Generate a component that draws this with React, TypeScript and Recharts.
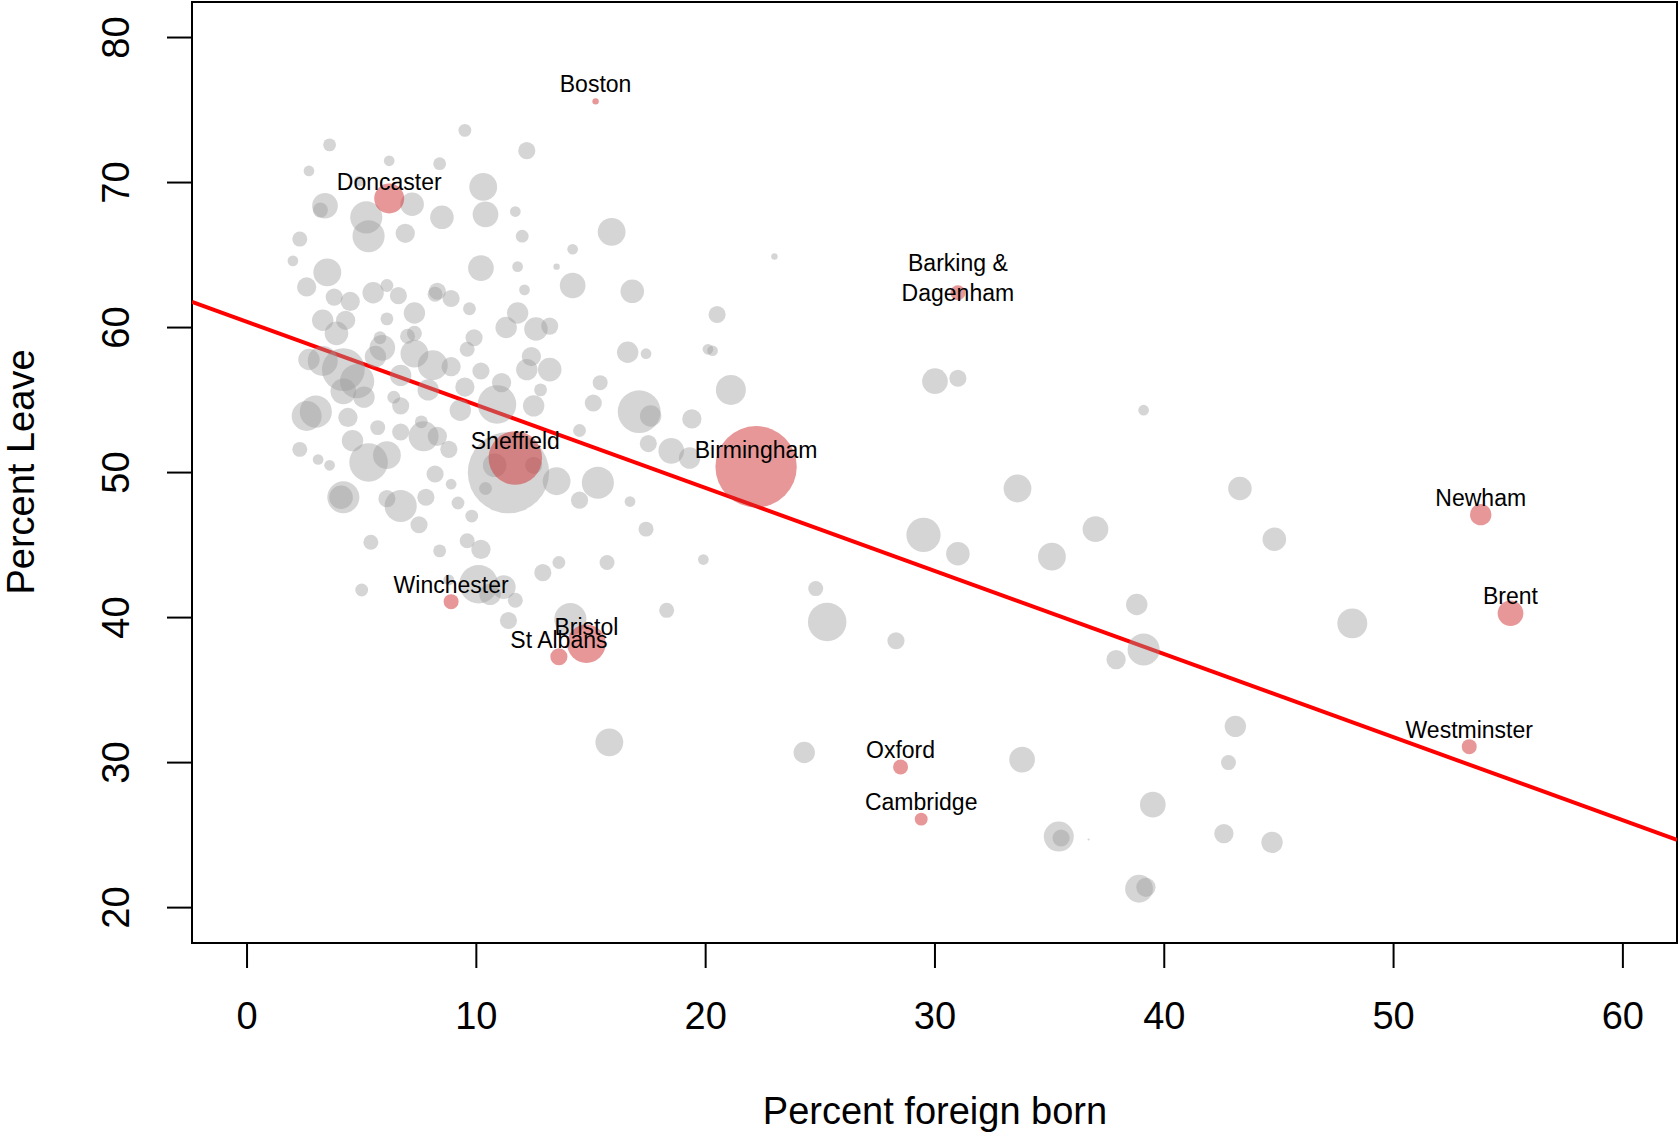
import { ScatterChart, Scatter, XAxis, YAxis, ReferenceLine, ReferenceArea } from 'recharts';

// gray areas: [foreign born %, leave %, radius]
const grayPoints: number[][] = [
  [30, 56.3, 12], [31, 56.5, 8], [39.1, 54.3, 5], [33.6, 48.9, 13], [43.3, 48.9, 11], [29.5, 45.7, 16],
  [31, 44.4, 11], [35.1, 44.2, 13], [37, 46.1, 12], [44.8, 45.4, 11], [38.8, 40.9, 10], [48.2, 39.6, 14],
  [39.1, 37.8, 15], [37.9, 37.1, 9], [43.1, 32.5, 10], [42.8, 30, 7], [33.8, 30.2, 12], [39.5, 27.1, 12],
  [35.4, 24.9, 14], [35.5, 24.8, 8], [42.6, 25.1, 9], [44.7, 24.5, 10], [38.9, 21.3, 13], [39.2, 21.4, 9], [36.7, 24.7, 1],
  [25.3, 39.7, 18], [28.3, 38.4, 8], [24.8, 42, 7], [24.3, 30.7, 10], [15.8, 31.4, 13], [18.3, 40.5, 7],
  [19.9, 44, 5], [17.4, 46.1, 7], [15.7, 43.8, 7], [14.5, 48.1, 8], [16.7, 48, 5], [13.5, 49.4, 13],
  [15.3, 49.3, 15], [14.1, 39.9, 15], [12.9, 43.1, 8], [13.6, 43.8, 6], [10.6, 41.6, 10], [10.1, 42.3, 18],
  [11.2, 42.1, 11], [11.7, 41.2, 7], [11.4, 39.8, 8], [5, 41.9, 6], [8.8, 42.6, 5], [11.4, 50, 38],
  [10.9, 54.7, 18], [12.5, 54.6, 10], [17.1, 54.2, 20], [17.6, 53.9, 10], [19.4, 53.7, 9], [21.1, 55.7, 14],
  [18.5, 51.5, 12], [19.3, 51, 10], [17.5, 52, 8], [20.5, 60.9, 8], [20.3, 58.4, 5], [23, 64.9, 3],
  [16.8, 62.5, 11], [16.6, 58.3, 10], [17.4, 58.2, 5], [15.9, 66.6, 13], [14.2, 62.9, 12], [14.2, 65.4, 5],
  [13.5, 64.2, 3], [12.1, 62.6, 5], [15.4, 56.2, 7], [13.2, 57.1, 11], [15.1, 54.8, 8], [14.5, 52.9, 6],
  [12.8, 55.7, 6], [12.6, 59.9, 11], [11.8, 61, 10], [11.3, 60, 10], [12.4, 58, 9], [12.2, 57.1, 10],
  [10.2, 64.1, 12], [10.4, 67.8, 12], [10.3, 69.7, 13], [12, 66.3, 6], [12.2, 72.2, 8], [11.7, 68, 5],
  [9.5, 73.6, 6], [8.4, 71.3, 6], [8.5, 67.6, 11], [7.2, 68.5, 11], [5.3, 66.3, 15], [5.2, 67.6, 15],
  [3.4, 68.4, 12], [3.6, 72.6, 6], [2.7, 70.8, 5], [2.3, 66.1, 7], [4.9, 70.1, 5], [6.2, 71.5, 5],
  [2.6, 62.8, 9], [3.5, 63.8, 13], [4.5, 61.8, 9], [5.5, 62.4, 10], [6.6, 62.2, 8], [7.3, 61, 10],
  [8.3, 62.5, 8], [8.9, 62, 8], [9.7, 61.3, 6], [7.3, 58.2, 13], [6.7, 56.7, 10], [5.6, 58, 10],
  [4.2, 57.1, 20], [4.8, 56.3, 16], [3.3, 57.7, 14], [2.7, 57.8, 10], [4.2, 55.6, 12], [5.1, 55.2, 10],
  [6.7, 54.6, 8], [3, 54.2, 15], [4.4, 53.8, 9], [5.7, 53.1, 7], [6.1, 51.2, 13], [5.3, 50.7, 18],
  [6.7, 52.8, 8], [7.7, 52.5, 14], [8.3, 52.5, 9], [8.8, 51.6, 8], [8.2, 49.9, 8], [8.9, 49.2, 5],
  [7.8, 48.3, 8], [6.1, 48.2, 8], [4.2, 48.3, 15], [4.1, 48.3, 11], [6.7, 47.7, 15], [7.5, 46.4, 8],
  [8.4, 44.6, 6], [9.6, 45.3, 7], [9.8, 47, 6], [5.4, 45.2, 7], [10.2, 44.7, 9], [2.3, 51.6, 7],
  [3.1, 50.9, 5], [3.6, 50.5, 5], [2.6, 53.9, 14], [9.3, 54.3, 10], [9.5, 55.9, 9], [8.9, 57.3, 9],
  [7, 59.4, 7], [8.1, 57.4, 14], [9.9, 59.3, 8], [10.2, 57, 8], [11.1, 56.2, 9], [2, 64.6, 5],
  [3.3, 60.5, 10], [3.9, 59.6, 11], [4.3, 60.5, 9], [3.2, 68.1, 7], [6.9, 66.5, 9], [7.3, 59.6, 7],
  [8.2, 62.3, 7], [9.6, 58.5, 7], [10.8, 50.5, 11], [12.5, 50.5, 8], [13.2, 60.1, 8], [11.8, 64.2, 5],
  [20.1, 58.5, 5], [6.1, 60.6, 6], [7.6, 53.5, 6], [6.4, 55.2, 6], [9.2, 47.9, 6], [10.4, 48.9, 6],
  [6.1, 62.9, 6], [5.8, 59.3, 6], [4.6, 52.2, 10], [5.9, 58.6, 12], [3.8, 62.1, 8], [7.9, 55.7, 10],
];

// highlighted areas
const redNames = ['Boston', 'Doncaster', 'Barking &\nDagenham', 'Sheffield', 'Birmingham', 'Newham', 'Brent',
  'Winchester', 'Bristol', 'St Albans', 'Oxford', 'Cambridge', 'Westminster'];
const redX = [15.2, 6.2, 31, 11.7, 22.2, 53.8, 55.1, 8.9, 14.8, 13.6, 28.5, 29.4, 53.3];
const redY = [75.6, 68.9, 62.4, 51, 50.4, 47.1, 40.3, 41.1, 38.2, 37.3, 29.7, 26.1, 31.1];
const redR = [3, 14, 7, 25, 38, 10, 12, 7, 18, 8, 7, 6, 7];

const xTicks = [0, 10, 20, 30, 40, 50, 60];
const yTicks = [20, 30, 40, 50, 60, 70, 80];

const X_DOMAIN: [number, number] = [-2.4, 62.36];
const Y_DOMAIN: [number, number] = [17.56, 82.45];
const FIT = { a: 60.4, b: -0.573 };
const K = 1.07;
const FONT = '"Liberation Sans", Arial, sans-serif';

const grayData = grayPoints.map(([x, y, r]) => ({ x, y, r }));
const redData = redNames.map((name, i) => ({ name, x: redX[i], y: redY[i], r: redR[i] }));

const GrayDot = (p: any) => (
  <circle cx={p.cx} cy={p.cy} r={p.payload.r * K} fill="#9a9a9a" fillOpacity={0.42} />
);

const RedDot = (p: any) => {
  const lines: string[] = p.payload.name.split('\n');
  // two-line labels sit centred on the point, single lines just above it
  const base = lines.length > 1 ? p.cy + 2 : p.cy - 15;
  return (
    <g>
      <circle cx={p.cx} cy={p.cy} r={p.payload.r * K} fill="#d03030" fillOpacity={0.5} />
      {lines.map((l, i) => (
        <text key={i} x={p.cx} y={base - (lines.length - 1 - i) * 30} textAnchor="middle"
          dominantBaseline="middle" fontSize={23} fontFamily={FONT} fill="#000">{l}</text>
      ))}
    </g>
  );
};

const XTick = (p: any) => (
  <text x={p.x} y={1019} textAnchor="middle" dominantBaseline="middle" fontSize={38} fontFamily={FONT}>
    {p.payload.value}
  </text>
);

const YTick = (p: any) => (
  <text x={119} y={p.y} textAnchor="middle" dominantBaseline="middle" fontSize={38} fontFamily={FONT}
    transform={`rotate(-90 119 ${p.y})`}>
    {p.payload.value}
  </text>
);

export default function App() {
  return (
    <div style={{ position: 'absolute', left: 0, top: 0, background: '#fff' }}>
      <ScatterChart width={1678} height={1138} margin={{ top: 2, right: 1, bottom: 0, left: 0 }}>
        <XAxis type="number" dataKey="x" domain={X_DOMAIN} ticks={xTicks} allowDataOverflow
          height={195} tickSize={25} tickLine={{ stroke: '#000', strokeWidth: 2 }} axisLine={false} tick={<XTick />} />
        <YAxis type="number" dataKey="y" domain={Y_DOMAIN} ticks={yTicks} allowDataOverflow
          width={192} tickSize={25} tickLine={{ stroke: '#000', strokeWidth: 2 }} axisLine={false} tick={<YTick />} />
        <ReferenceArea x1={X_DOMAIN[0]} x2={X_DOMAIN[1]} y1={Y_DOMAIN[0]} y2={Y_DOMAIN[1]}
          fill="none" stroke="#000" strokeWidth={2} fillOpacity={0} />
        <Scatter data={grayData} shape={<GrayDot />} isAnimationActive={false} />
        <Scatter data={redData} shape={<RedDot />} isAnimationActive={false} />
        <ReferenceLine
          segment={[
            { x: X_DOMAIN[0], y: FIT.a + FIT.b * X_DOMAIN[0] },
            { x: X_DOMAIN[1], y: FIT.a + FIT.b * X_DOMAIN[1] },
          ]}
          stroke="#ff0000" strokeWidth={4} ifOverflow="hidden" />
        <text x={935} y={1114} textAnchor="middle" dominantBaseline="middle" fontSize={38} fontFamily={FONT}>
          Percent foreign born
        </text>
        <text x={24} y={472} textAnchor="middle" dominantBaseline="middle" fontSize={38} fontFamily={FONT}
          transform="rotate(-90 24 472)">
          Percent Leave
        </text>
      </ScatterChart>
    </div>
  );
}
